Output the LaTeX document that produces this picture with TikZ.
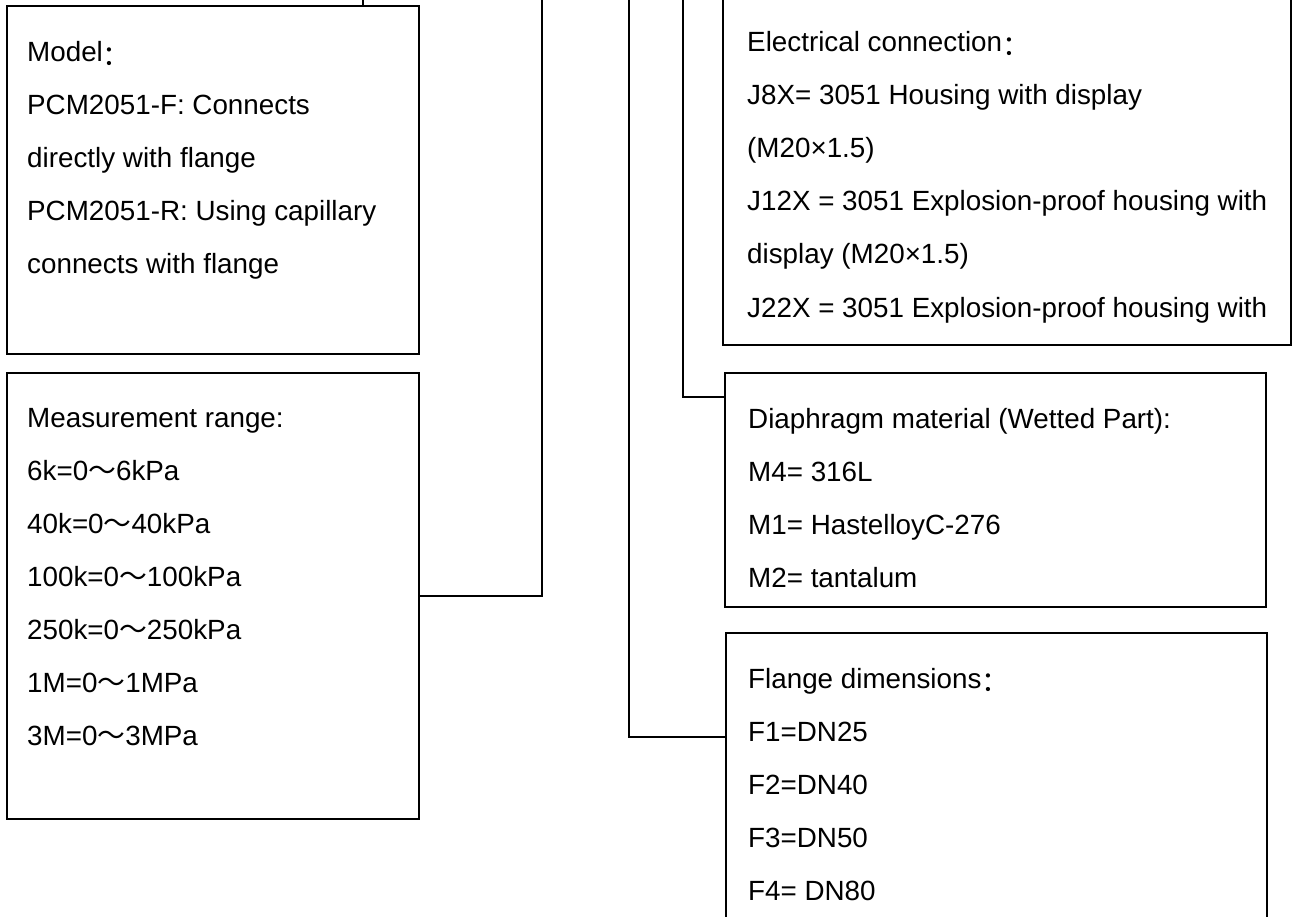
\documentclass[tikz,border=0pt]{standalone}
\usepackage{fontspec}
\setmainfont{Liberation Sans}
\newfontfamily\cjk{Noto Sans CJK SC}
\newcommand{\fwc}{\raisebox{-0.12em}{\cjk ：}}
\newcommand{\fwt}{{\cjk ～}}
\tikzset{
  box/.style={draw=black, line width=1.2pt, inner sep=0pt, outer sep=0pt, fill=none},
  txt/.style={anchor=base west, inner sep=0pt, font=\fontsize{27.8}{33}\selectfont},
  conn/.style={draw=black, line width=2pt},
  connthin/.style={draw=black, line width=1.5pt},
}
\begin{document}
\begin{tikzpicture}[x=1pt, y=-1pt]
\useasboundingbox (0,0) rectangle (1293,917);
% boxes
\node[box, minimum width=412pt, minimum height=348pt] (model) at (213,180) {};
\node[box, minimum width=412pt, minimum height=446pt] (meas) at (213,596) {};
\node[box, minimum width=568pt, minimum height=350pt] (elec) at (1007,170) {};
\node[box, minimum width=541pt, minimum height=234pt] (diaph) at (995.5,490) {};
\node[box, minimum width=541pt, minimum height=292pt] (flange) at (996.5,779) {};
% connectors
\coordinate (t0) at (363,0);
\coordinate (t1) at (542,0);
\coordinate (t2) at (629,0);
\coordinate (t3) at (683,0);
\coordinate (j2) at (0,737);
\coordinate (j3) at (0,397);
\draw[conn] (t0) -- (t0 |- model.north);
\draw[conn] (meas.east) -| (t1);
\draw[connthin] (t2) |- (flange.west |- j2);
\draw[connthin] (t3) |- (diaph.west |- j3);
% texts: model
\node[txt] (m1) at (27,62) {Model\fwc};
\node[txt] (m2) at (27,115) {PCM2051-F: Connects};
\node[txt] (m3) at (27,168) {directly with flange};
\node[txt] (m4) at (27,221) {PCM2051-R: Using capillary};
\node[txt] (m5) at (27,274) {connects with flange};
% measurement
\node[txt] (r1) at (27,427) {Measurement range:};
\node[txt] (r2) at (27,480) {6k=0\fwt 6kPa};
\node[txt] (r3) at (27,533) {40k=0\fwt 40kPa};
\node[txt] (r4) at (27,586) {100k=0\fwt 100kPa};
\node[txt] (r5) at (27,639) {250k=0\fwt 250kPa};
\node[txt] (r6) at (27,692) {1M=0\fwt 1MPa};
\node[txt] (r7) at (27,745) {3M=0\fwt 3MPa};
% electrical
\node[txt] (e1) at (747,52) {Electrical connection\fwc};
\node[txt] (e2) at (747,105) {J8X= 3051 Housing with display};
\node[txt] (e3) at (747,158) {(M20×1.5)};
\node[txt] (e4) at (747,211) {J12X = 3051 Explosion-proof housing with};
\node[txt] (e5) at (747,264) {display (M20×1.5)};
\node[txt] (e6) at (747,317) {J22X = 3051 Explosion-proof housing with};
% diaphragm
\node[txt] (d1) at (748,428) {Diaphragm material (Wetted Part):};
\node[txt] (d2) at (748,481) {M4= 316L};
\node[txt] (d3) at (748,534) {M1= HastelloyC-276};
\node[txt] (d4) at (748,587) {M2= tantalum};
% flange
\node[txt] (f1) at (748,688) {Flange dimensions\fwc};
\node[txt] (f2) at (748,741) {F1=DN25};
\node[txt] (f3) at (748,794) {F2=DN40};
\node[txt] (f4) at (748,847) {F3=DN50};
\node[txt] (f5) at (748,900) {F4= DN80};
\end{tikzpicture}
\end{document}
